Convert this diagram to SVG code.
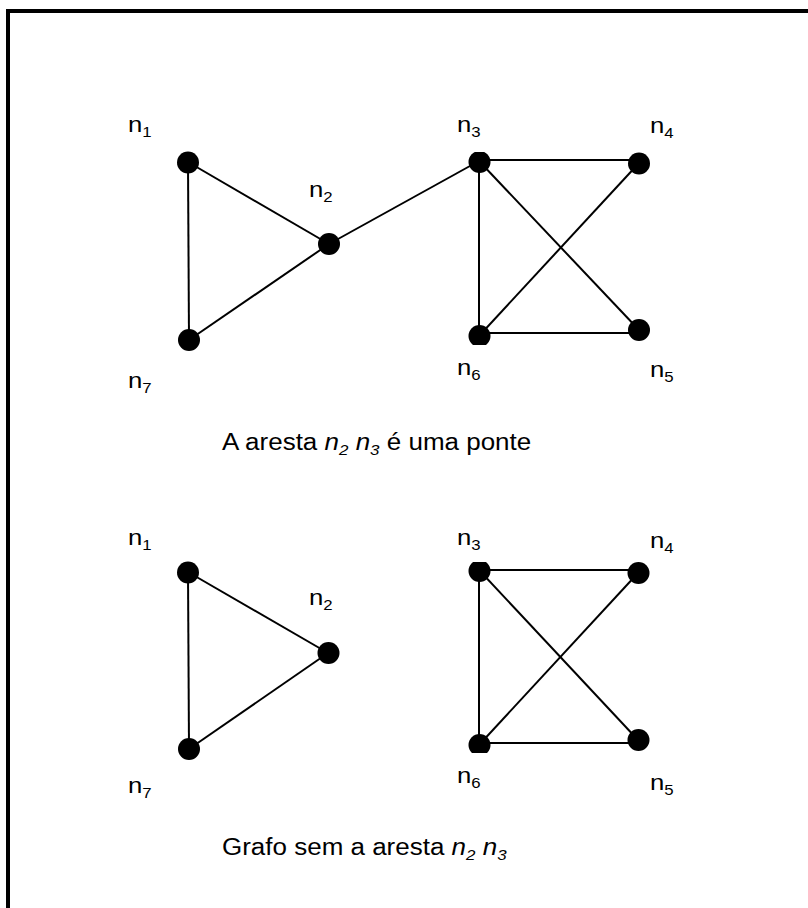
<svg xmlns="http://www.w3.org/2000/svg" width="808" height="908" viewBox="0 0 808 908">
<style>
.e{stroke:#000;stroke-width:2;fill:none}
.v{fill:#000}
.t{font-family:"Liberation Sans",Arial,sans-serif;font-size:23px;fill:#000}
.s{font-size:15px}
</style>
<defs>
<clipPath id="ct1"><rect x="460" y="152" width="40" height="30"/></clipPath>
<clipPath id="cb1"><rect x="460" y="320" width="40" height="25"/></clipPath>
<clipPath id="ct2"><rect x="460" y="562" width="40" height="30"/></clipPath>
<clipPath id="cb2"><rect x="460" y="730" width="40" height="23"/></clipPath>
</defs>
<rect width="808" height="908" fill="#fff"/>
<g id="frame"><line x1="8" y1="11" x2="808" y2="11" stroke="#000" stroke-width="4"/><line x1="8" y1="9" x2="8" y2="908" stroke="#000" stroke-width="4"/></g>
<g id="edges">
<line class="e" x1="188" y1="162" x2="189" y2="340"/>
<line class="e" x1="188" y1="162" x2="329" y2="244"/>
<line class="e" x1="189" y1="340" x2="329" y2="244"/>
<line class="e" x1="329" y1="244" x2="479" y2="161"/>
<line class="e" x1="479" y1="160" x2="639" y2="160"/>
<line class="e" x1="479" y1="161" x2="479" y2="336"/>
<line class="e" x1="479" y1="161" x2="639" y2="330"/>
<line class="e" x1="639" y1="163" x2="479" y2="336"/>
<line class="e" x1="479" y1="333" x2="639" y2="333"/>
<line class="e" x1="188" y1="572" x2="189" y2="749"/>
<line class="e" x1="188" y1="572" x2="328" y2="653"/>
<line class="e" x1="189" y1="749" x2="328" y2="653"/>
<line class="e" x1="479" y1="570" x2="638" y2="570"/>
<line class="e" x1="479" y1="570" x2="479" y2="745"/>
<line class="e" x1="479" y1="570" x2="638" y2="740"/>
<line class="e" x1="638" y1="573" x2="479" y2="745"/>
<line class="e" x1="479" y1="743" x2="638" y2="743"/>
</g>
<g id="top-n1"><circle class="v" cx="188" cy="162.5" r="11"/><text class="t" transform="translate(128,132) scale(1.12,1)">n<tspan class="s" dy="5">1</tspan></text></g>
<g id="top-n2"><circle class="v" cx="329" cy="244" r="11"/><text class="t" transform="translate(309,197) scale(1.12,1)">n<tspan class="s" dy="5">2</tspan></text></g>
<g id="top-n7"><circle class="v" cx="189" cy="340" r="11"/><text class="t" transform="translate(128,388) scale(1.12,1)">n<tspan class="s" dy="5">7</tspan></text></g>
<g id="top-n3"><circle class="v" cx="479.5" cy="162" r="11" clip-path="url(#ct1)"/><text class="t" transform="translate(457,132) scale(1.12,1)">n<tspan class="s" dy="5">3</tspan></text></g>
<g id="top-n4"><circle class="v" cx="639" cy="163.5" r="11"/><text class="t" transform="translate(650,133) scale(1.12,1)">n<tspan class="s" dy="5">4</tspan></text></g>
<g id="top-n6"><circle class="v" cx="479.5" cy="336" r="11" clip-path="url(#cb1)"/><text class="t" transform="translate(457,375) scale(1.12,1)">n<tspan class="s" dy="5">6</tspan></text></g>
<g id="top-n5"><circle class="v" cx="639" cy="330" r="11"/><text class="t" transform="translate(650,377) scale(1.12,1)">n<tspan class="s" dy="5">5</tspan></text></g>
<g id="bot-n1"><circle class="v" cx="188" cy="572.5" r="11"/><text class="t" transform="translate(128,545) scale(1.12,1)">n<tspan class="s" dy="5">1</tspan></text></g>
<g id="bot-n2"><circle class="v" cx="328.5" cy="653" r="11"/><text class="t" transform="translate(309,605) scale(1.12,1)">n<tspan class="s" dy="5">2</tspan></text></g>
<g id="bot-n7"><circle class="v" cx="189" cy="749" r="11"/><text class="t" transform="translate(128,793) scale(1.12,1)">n<tspan class="s" dy="5">7</tspan></text></g>
<g id="bot-n3"><circle class="v" cx="479.5" cy="571" r="11" clip-path="url(#ct2)"/><text class="t" transform="translate(457,545) scale(1.12,1)">n<tspan class="s" dy="5">3</tspan></text></g>
<g id="bot-n4"><circle class="v" cx="638.5" cy="573" r="11"/><text class="t" transform="translate(650,548) scale(1.12,1)">n<tspan class="s" dy="5">4</tspan></text></g>
<g id="bot-n6"><circle class="v" cx="479.5" cy="745" r="11" clip-path="url(#cb2)"/><text class="t" transform="translate(457,783) scale(1.12,1)">n<tspan class="s" dy="5">6</tspan></text></g>
<g id="bot-n5"><circle class="v" cx="638.5" cy="740" r="11"/><text class="t" transform="translate(650,790) scale(1.12,1)">n<tspan class="s" dy="5">5</tspan></text></g>
<g id="caption1"><text class="t" transform="translate(222,450) scale(1.13,1)">A aresta <tspan font-style="italic">n<tspan class="s" dy="5">2</tspan><tspan dy="-5"> n</tspan><tspan class="s" dy="5">3</tspan></tspan><tspan dy="-5"> é uma ponte</tspan></text></g>
<g id="caption2"><text class="t" transform="translate(222,855) scale(1.13,1)">Grafo sem a aresta <tspan font-style="italic">n<tspan class="s" dy="5">2</tspan><tspan dy="-5"> n</tspan><tspan class="s" dy="5">3</tspan></tspan></text></g>
</svg>
